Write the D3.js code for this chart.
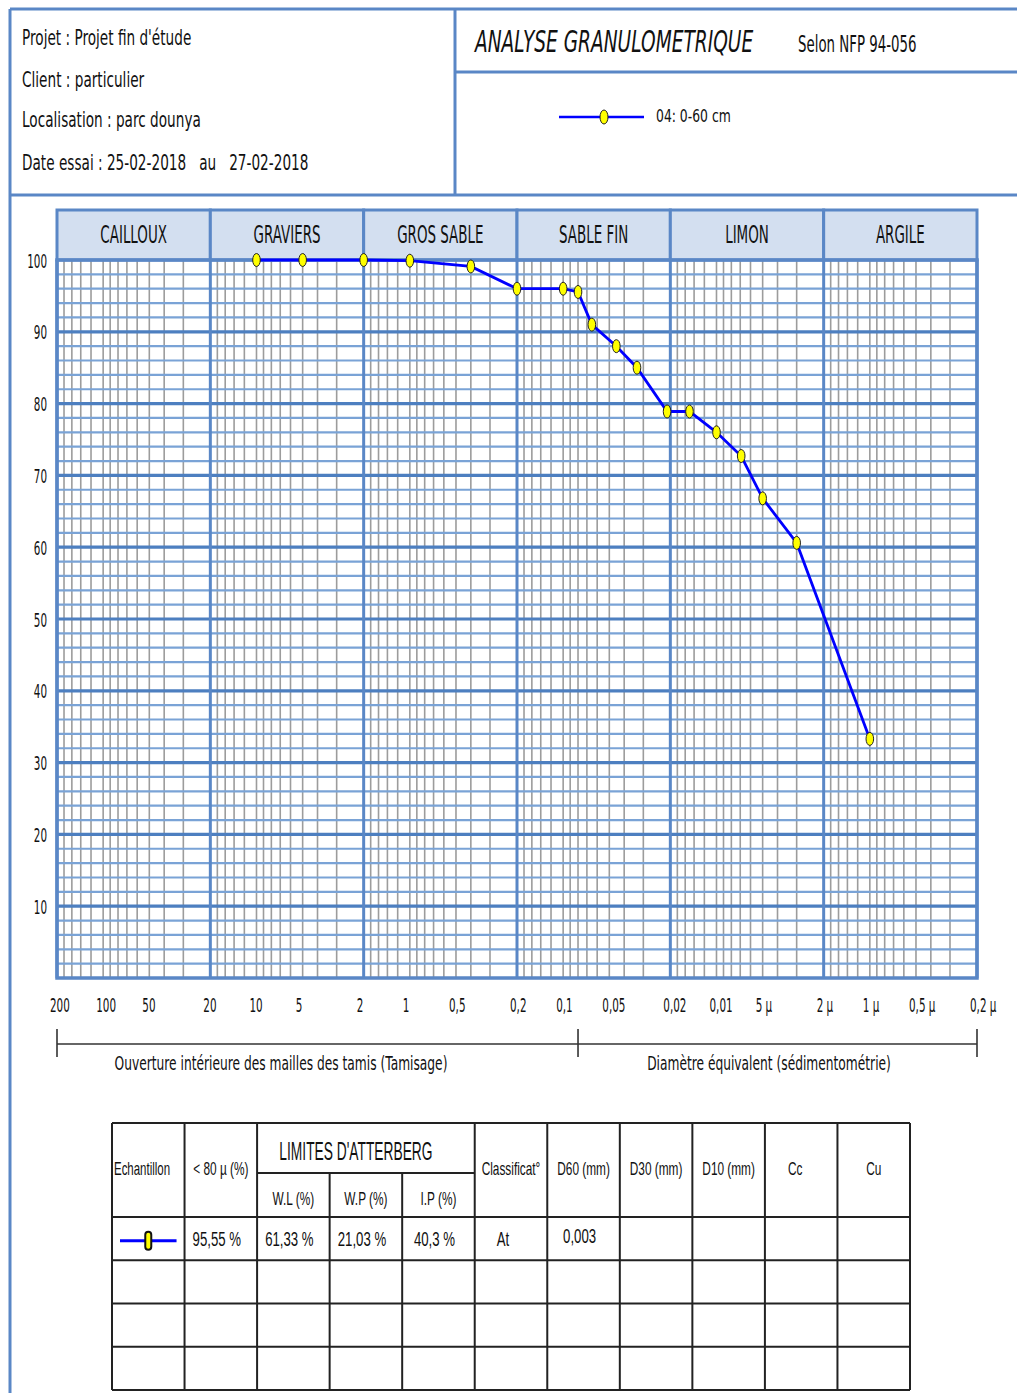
<!DOCTYPE html>
<html>
<head>
<meta charset="utf-8">
<style>
  body { margin: 0; background: #fff; }
  svg { display: block; }
</style>
</head>
<body>
<script src="https://d3js.org/d3.v7.min.js"></script>
<svg id="page" width="1017" height="1393"></svg>
<script>
// values
const infoLines = ["Projet : Projet fin d'étude", "Client : particulier", "Localisation : parc dounya", "Date essai : 25-02-2018   au   27-02-2018"];
const title = "ANALYSE GRANULOMETRIQUE";
const norm = "Selon NFP 94-056";
const sampleName = "04: 0-60 cm";

const classNames = ["CAILLOUX", "GRAVIERS", "GROS SABLE", "SABLE FIN", "LIMON", "ARGILE"];
const classBounds = [200, 20, 2, 0.2, 0.02, 0.002, 0.0002];
const decadeSteps = [1.5, 2, 2.5, 3, 3.5, 4, 4.5, 5, 6, 7, 8, 9];

const xTickValues = [200, 100, 50, 20, 10, 5, 2, 1, 0.5, 0.2, 0.1, 0.05, 0.02, 0.01, 0.005, 0.002, 0.001, 0.0005, 0.0002];
const xTickLabels = ["200", "100", "50", "20", "10", "5", "2", "1", "0,5", "0,2", "0,1", "0,05", "0,02", "0,01", "5 µ", "2 µ", "1 µ", "0,5 µ", "0,2 µ"];
const yTickValues = [10, 20, 30, 40, 50, 60, 70, 80, 90, 100];
const minorStep = 2;

const sieveSplit = 0.08;
const methodLabels = ["Ouverture intérieure des mailles des tamis (Tamisage)", "Diamètre équivalent (sédimentométrie)"];

const diameters = [10, 5, 2, 1, 0.4, 0.2, 0.1, 0.08, 0.065, 0.045, 0.033, 0.021, 0.015, 0.01, 0.0069, 0.005, 0.003, 0.001];
const passing = [100, 100, 100, 99.9, 99.1, 96, 96, 95.55, 91, 88, 85, 78.9, 78.9, 76, 72.7, 66.8, 60.6, 33.3];

const headLabels = ["Echantillon", "< 80 µ (%)", "W.L (%)", "W.P (%)", "I.P (%)", "Classificat°", "D60 (mm)", "D30 (mm)", "D10 (mm)", "Cc", "Cu"];
const groupLabel = "LIMITES D'ATTERBERG";
const groupCols = [2, 5];
const sampleValues = [null, "95,55 %", "61,33 %", "21,03 %", "40,3 %", "At", "0,003", "", "", "", ""];
const rowCount = 4;

const svg = d3.select("#page");
const BLUE = "#5a87c6";
const SANS = "'DejaVu Sans', sans-serif";
const ARIAL = "'Liberation Sans', Arial, sans-serif";

function label(parent, px, py, str, o) {
    const t = parent.append("text")
        .attr("transform", `translate(${px},${py}) scale(${o.sx},1)`)
        .attr("font-size", o.fs)
        .attr("font-family", o.font || SANS)
        .attr("text-anchor", o.anchor || "middle")
        .attr("fill", "#111")
        .style("white-space", "pre")
        .text(str);
    if (o.italic) t.attr("font-style", "italic");
    return t;
}

svg.append("rect").attr("width", 1017).attr("height", 1393).attr("fill", "#fff");

// page frame
const frame = svg.append("g").attr("stroke", BLUE).attr("stroke-width", 3).attr("fill", "none");
frame.append("line").attr("x1", 10).attr("x2", 1017).attr("y1", 9).attr("y2", 9);
frame.append("line").attr("x1", 10).attr("x2", 10).attr("y1", 9).attr("y2", 1393);
frame.append("line").attr("x1", 455).attr("x2", 455).attr("y1", 9).attr("y2", 195);
frame.append("line").attr("x1", 455).attr("x2", 1017).attr("y1", 72).attr("y2", 72);
frame.append("line").attr("x1", 10).attr("x2", 1017).attr("y1", 195).attr("y2", 195);

// header texts
const infoY = [45, 87, 127, 170];
infoLines.forEach((s, i) => label(svg, 22, infoY[i], s, {fs: 22, sx: 0.62, anchor: "start"}));
label(svg, 475, 52, title, {fs: 30, sx: 0.62, anchor: "start", italic: true});
label(svg, 798, 52, norm, {fs: 23, sx: 0.58, anchor: "start"});

// legend
svg.append("line").attr("x1", 559).attr("x2", 644).attr("y1", 117).attr("y2", 117)
    .attr("stroke", "#0000ff").attr("stroke-width", 2.5);
svg.append("ellipse").attr("cx", 604).attr("cy", 117).attr("rx", 4).attr("ry", 7)
    .attr("fill", "#ffff00").attr("stroke", "#222").attr("stroke-width", 1);
label(svg, 656, 122, sampleName, {fs: 18.5, sx: 0.67, anchor: "start"});

// chart
const x = d3.scaleLog().domain([200, 0.0002]).range([57, 977]);
const y = d3.scaleLinear().domain([0, 100]).range([978, 260]);
const chart = svg.append("g");

const grayValues = [];
classBounds.slice(1).forEach(b => decadeSteps.forEach(m => grayValues.push(b * m)));
chart.selectAll("line.gray").data(grayValues).enter().append("line")
    .attr("class", "gray")
    .attr("x1", d => x(d)).attr("x2", d => x(d))
    .attr("y1", y(100)).attr("y2", y(0))
    .attr("stroke", "#9c9c9c").attr("stroke-width", 1.6);

const minorValues = d3.range(minorStep, 100, minorStep).filter(v => v % 10 !== 0);
chart.selectAll("line.minor").data(minorValues).enter().append("line")
    .attr("class", "minor")
    .attr("x1", x(200)).attr("x2", x(0.0002))
    .attr("y1", d => y(d)).attr("y2", d => y(d))
    .attr("stroke", "#7aa3d6").attr("stroke-width", 2.2);

chart.selectAll("line.major").data(yTickValues.filter(v => v < 100)).enter().append("line")
    .attr("class", "major")
    .attr("x1", x(200)).attr("x2", x(0.0002))
    .attr("y1", d => y(d)).attr("y2", d => y(d))
    .attr("stroke", "#4d7fc0").attr("stroke-width", 3.2);

// class header band
const band = chart.selectAll("g.cls").data(classNames).enter().append("g").attr("class", "cls");
band.append("rect")
    .attr("x", (d, i) => x(classBounds[i])).attr("y", 210)
    .attr("width", (d, i) => x(classBounds[i + 1]) - x(classBounds[i])).attr("height", y(100) - 210)
    .attr("fill", "#d3dff0").attr("stroke", BLUE).attr("stroke-width", 3);
band.each(function(d, i) {
    label(d3.select(this), (x(classBounds[i]) + x(classBounds[i + 1])) / 2, 243, d, {fs: 24, sx: 0.56});
});

chart.selectAll("line.bound").data(classBounds).enter().append("line")
    .attr("class", "bound")
    .attr("x1", d => x(d)).attr("x2", d => x(d))
    .attr("y1", y(100)).attr("y2", y(0))
    .attr("stroke", BLUE).attr("stroke-width", 3);
chart.append("rect").attr("x", x(200)).attr("y", y(100))
    .attr("width", x(0.0002) - x(200)).attr("height", y(0) - y(100))
    .attr("fill", "none").attr("stroke", BLUE).attr("stroke-width", 3.5);

// axis labels
yTickValues.forEach(v => label(chart, 47, y(v) + 7.5, String(v), {fs: 20, sx: 0.52, anchor: "end"}));
xTickValues.forEach((v, i) => label(chart, x(v) - 7, 1012, xTickLabels[i], {fs: 20, sx: 0.52, anchor: "start"}));

// method bracket
const br = chart.append("g").attr("stroke", "#333").attr("stroke-width", 1.6);
br.append("line").attr("x1", x(200)).attr("x2", x(0.0002)).attr("y1", 1044).attr("y2", 1044);
[200, sieveSplit, 0.0002].forEach(v => br.append("line")
    .attr("x1", x(v)).attr("x2", x(v)).attr("y1", 1029).attr("y2", 1057));
label(chart, 281, 1070, methodLabels[0], {fs: 19, sx: 0.645});
label(chart, 769, 1070, methodLabels[1], {fs: 19, sx: 0.645});

// curve
const pts = diameters.map((d, i) => [d, passing[i]]);
chart.append("path").datum(pts)
    .attr("d", d3.line().x(d => x(d[0])).y(d => y(d[1])))
    .attr("fill", "none").attr("stroke", "#0000ff").attr("stroke-width", 2.8);
chart.selectAll("ellipse.pt").data(pts).enter().append("ellipse")
    .attr("class", "pt")
    .attr("cx", d => x(d[0])).attr("cy", d => y(d[1]))
    .attr("rx", 3.8).attr("ry", 6.5)
    .attr("fill", "#ffff00").attr("stroke", "#222").attr("stroke-width", 1);

// results table
const col = d3.scaleLinear().domain([0, headLabels.length]).range([112, 910]);
const row = d3.scaleLinear().domain([0, rowCount]).range([1217, 1390]);
const tTop = 1123, tMid = 1173;
const tab = svg.append("g");
const tl = tab.append("g").attr("stroke", "#222").attr("stroke-width", 2);
d3.range(headLabels.length + 1).forEach(c => {
    const inner = c > groupCols[0] && c < groupCols[1];
    tl.append("line").attr("x1", col(c)).attr("x2", col(c))
        .attr("y1", inner ? tMid : tTop).attr("y2", row(rowCount));
});
tl.append("line").attr("x1", col(0)).attr("x2", col(headLabels.length)).attr("y1", tTop).attr("y2", tTop);
tl.append("line").attr("x1", col(groupCols[0])).attr("x2", col(groupCols[1])).attr("y1", tMid).attr("y2", tMid);
d3.range(rowCount + 1).forEach(r => tl.append("line")
    .attr("x1", col(0)).attr("x2", col(headLabels.length)).attr("y1", row(r)).attr("y2", row(r)));

const cmid = c => (col(c) + col(c + 1)) / 2;
headLabels.forEach((s, c) => {
    const sub = c >= groupCols[0] && c < groupCols[1];
    if (c === 0) label(tab, col(0) + 2, 1175, s, {fs: 18.5, sx: 0.62, anchor: "start", font: ARIAL});
    else label(tab, c === 9 ? cmid(c) - 6 : cmid(c), sub ? 1205 : 1175, s, {fs: 18.5, sx: 0.64, font: ARIAL});
});
label(tab, (col(groupCols[0]) + col(groupCols[1])) / 2 - 10, 1160, groupLabel, {fs: 26, sx: 0.53, font: ARIAL});

sampleValues.forEach((s, c) => {
    if (c === 0 || !s) return;
    const dx = c === 5 ? -8 : -4;
    label(tab, cmid(c) + dx, c === 6 ? 1243 : 1246, s, {fs: 20, sx: 0.66, font: ARIAL});
});
const ly = (row(0) + row(1)) / 2 + 2;
tab.append("line").attr("x1", col(0) + 8).attr("x2", col(1) - 8).attr("y1", ly).attr("y2", ly)
    .attr("stroke", "#0000ff").attr("stroke-width", 3);
tab.append("rect").attr("x", cmid(0) - 3).attr("y", ly - 9).attr("width", 6).attr("height", 18).attr("rx", 3)
    .attr("fill", "#ffff00").attr("stroke", "#111").attr("stroke-width", 2);
</script>
</body>
</html>
